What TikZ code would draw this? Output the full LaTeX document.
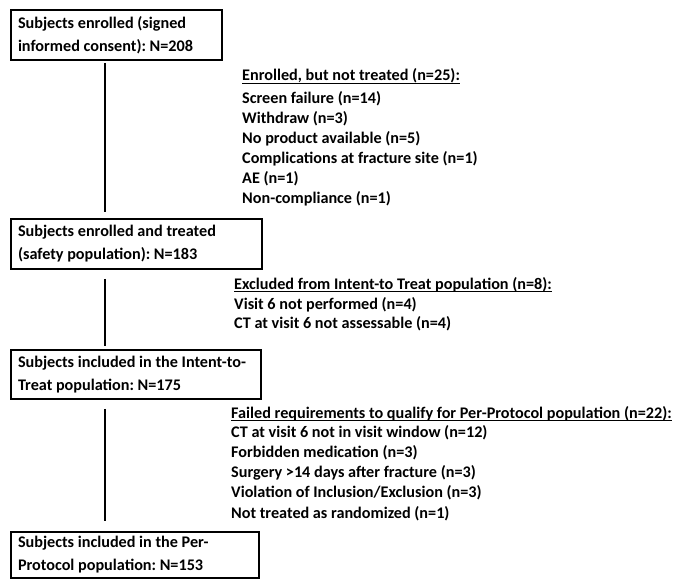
\documentclass[tikz,border=0pt]{standalone}
\usepackage{fontspec}
\setmainfont{Carlito}
\frenchspacing
\begin{document}
\begin{tikzpicture}[x=1pt,y=-1pt,
  box/.style={draw,line width=1.8pt,rectangle,inner xsep=7pt,inner ysep=0pt,align=flush left,
    font=\fontsize{16.2}{23}\selectfont\bfseries},
  item/.style={inner sep=0pt,anchor=base west,font=\fontsize{16.2}{20}\selectfont\bfseries},
  conn/.style={line width=1.8pt},
  ul/.style={line width=1.4pt}]
\useasboundingbox[fill=white] (0,0) rectangle (685,586);

% boxes
\node[box,minimum width=211pt,minimum height=50pt,text width=197pt] (b1) at (116.5,35)
  {Subjects enrolled (signed\\informed consent): N=208};
\node[box,minimum width=251pt,minimum height=50pt,text width=237pt] (b2) at (136.5,244)
  {Subjects enrolled and treated\\(safety population): N=183};
\node[box,minimum width=250pt,minimum height=49pt,text width=236pt] (b3) at (136,374.5)
  {Subjects included in the Intent-to-\\Treat population: N=175};
\node[box,minimum width=248pt,minimum height=46pt,text width=234pt] (b4) at (135,555)
  {Subjects included in the Per-\\Protocol population: N=153};

% connectors
\draw[conn] ([xshift=95pt,yshift=-2pt]b1.south west) -- ([xshift=95pt,yshift=6pt]b2.north west);
\draw[conn] ([xshift=95pt,yshift=-9pt]b2.south west) -- ([xshift=95pt,yshift=3pt]b3.north west);
\draw[conn] ([xshift=95pt,yshift=-9pt]b3.south west) -- ([xshift=95pt,yshift=10pt]b4.north west);

% list 1
\node[item] (t1) at (242,81) {Enrolled, but not treated (n=25):};
\draw[ul] ([yshift=-2.5pt]t1.base west) -- ([yshift=-2.5pt]t1.base east);
\foreach \t [count=\i from 0] in {{Screen failure (n=14)},{Withdraw (n=3)},{No product available (n=5)},
  {Complications at fracture site (n=1)},{AE (n=1)},{Non-compliance (n=1)}}
  \node[item] (e\i) at (242,103+20*\i) {\t};

% list 2
\node[item] (t2) at (234,289) {Excluded from Intent-to Treat population (n=8):};
\draw[ul] ([yshift=-2.5pt]t2.base west) -- ([yshift=-2.5pt]t2.base east);
\foreach \t [count=\i from 0] in {{Visit 6 not performed (n=4)},{CT at visit 6 not assessable (n=4)}}
  \node[item] (x\i) at (234,309+19.5*\i) {\t};

% list 3
\node[item] (t3) at (231,418) {Failed requirements to qualify for Per-Protocol population (n=22):};
\draw[ul] ([yshift=-2.5pt]t3.base west) -- ([yshift=-2.5pt]t3.base east);
\foreach \t [count=\i from 0] in {{CT at visit 6 not in visit window (n=12)},{Forbidden medication (n=3)},
  {Surgery >14 days after fracture (n=3)},{Violation of Inclusion/Exclusion (n=3)},{Not treated as randomized (n=1)}}
  \node[item] (f\i) at (231,437+20.25*\i) {\t};
\end{tikzpicture}
\end{document}
